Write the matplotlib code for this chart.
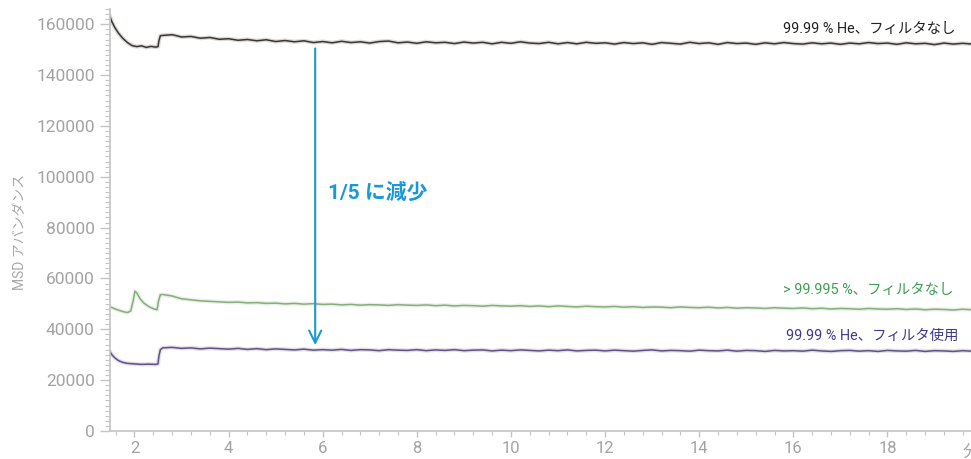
import numpy as np
import matplotlib
matplotlib.use("Agg")
import matplotlib.pyplot as plt
from matplotlib.ticker import MultipleLocator, FixedLocator

plt.rcParams['font.family'] = ['Roboto', 'Noto Sans CJK JP', 'DejaVu Sans']

# --- data (abundance in thousands) ---
# start-up part of each trace (before 2.6 min)
gray_t0 = [1.48, 1.52, 1.58, 1.66, 1.75, 1.85, 1.95, 2.05, 2.15, 2.25, 2.35, 2.45, 2.5, 2.52, 2.55]
gray_k0 = [163.0, 161.0, 158.8, 156.5, 154.5, 152.8, 151.6, 151.2, 151.5, 150.9, 151.3, 151.0, 151.2, 153.5, 155.5]

green_t0 = [1.48, 1.55, 1.65, 1.75, 1.85, 1.92, 1.97, 2.01, 2.05, 2.12, 2.2, 2.3, 2.4, 2.48, 2.51, 2.55]
green_k0 = [48.9, 48.3, 47.6, 47.0, 46.6, 47.2, 51.0, 55.0, 54.3, 52.0, 50.3, 49.0, 48.1, 47.7, 51.0, 53.6]

purple_t0 = [1.48, 1.52, 1.58, 1.66, 1.75, 1.85, 2.0, 2.15, 2.3, 2.45, 2.5, 2.52, 2.55]
purple_k0 = [31.2, 30.0, 28.8, 27.7, 27.0, 26.6, 26.4, 26.2, 26.3, 26.2, 26.4, 29.5, 32.0]

# 2.6 .. 19.8 min, sampled every 0.2 min
gray_k = [155.6, 155.9, 155.0, 155.2, 154.5, 154.8, 154.1, 154.3, 153.7, 154.0,
          153.5, 153.9, 153.2, 153.6, 153.1, 153.5, 152.8, 153.2, 152.7, 153.3,
          152.8, 153.1, 152.6, 153.2, 153.4, 152.7, 153.0, 152.5, 153.1, 152.7,
          152.9, 152.4, 153.0, 152.6, 152.9, 152.3, 152.9, 152.5, 153.1, 152.6,
          152.4, 152.9, 152.3, 152.8, 152.3, 152.9, 152.5, 152.7, 152.2, 152.8,
          152.4, 152.7, 152.1, 152.8, 152.5, 152.2, 152.9, 152.4, 152.7, 152.1,
          152.8, 152.4, 152.6, 152.1, 152.7, 152.3, 152.8, 152.4, 152.2, 152.7,
          152.3, 152.6, 152.1, 152.6, 152.3, 152.8, 152.4, 152.6, 152.1, 152.7,
          152.3, 152.5, 152.0, 152.6, 152.2, 152.5, 152.2]
green_k = [53.7, 53.1, 52.0, 51.6, 51.2, 51.0, 50.8, 50.6, 50.7, 50.4,
           50.5, 50.2, 50.3, 50.0, 50.2, 49.9, 50.1, 49.8, 49.9, 49.6,
           49.8, 49.5, 49.7, 49.6, 49.4, 49.7, 49.5, 49.4, 49.6, 49.3,
           49.5, 49.2, 49.4, 49.3, 49.1, 49.4, 49.2, 49.1, 49.3, 49.0,
           49.2, 48.9, 49.2, 49.0, 48.8, 49.1, 48.9, 48.8, 49.0, 48.7,
           48.9, 48.6, 48.8, 48.7, 48.5, 48.8, 48.6, 48.5, 48.7, 48.4,
           48.6, 48.3, 48.5, 48.4, 48.2, 48.5, 48.3, 48.2, 48.4, 48.1,
           48.3, 48.0, 48.2, 48.1, 47.9, 48.2, 48.0, 47.9, 48.1, 47.8,
           48.0, 47.7, 47.9, 47.8, 47.6, 47.9, 47.7]
purple_k = [32.7, 32.9, 32.5, 32.7, 32.3, 32.6, 32.4, 32.2, 32.5, 32.1,
            32.4, 32.0, 32.3, 32.1, 31.9, 32.2, 31.8, 32.0, 31.8, 32.1,
            31.7, 32.0, 31.9, 31.6, 32.0, 31.8, 31.7, 32.0, 31.6, 31.9,
            31.7, 32.0, 31.6, 31.8, 31.9, 31.5, 31.8, 31.6, 31.9, 31.7,
            31.5, 31.8, 31.6, 31.9, 31.5, 31.7, 31.8, 31.5, 31.8, 31.6,
            31.4, 31.7, 31.9, 31.5, 31.7, 31.6, 31.4, 31.8, 31.6, 31.5,
            31.8, 31.4, 31.7, 31.6, 31.3, 31.7, 31.5, 31.6, 31.4, 31.8,
            31.5, 31.3, 31.6, 31.7, 31.4, 31.6, 31.3, 31.7, 31.5, 31.4,
            31.7, 31.3, 31.6, 31.5, 31.3, 31.6, 31.4]

labels = ['99.99 % He、フィルタなし', '> 99.995 %、フィルタなし', '99.99 % He、フィルタ使用']
colors = ['#3b3531', '#86ad7c', '#5f5283']
label_colors = ['#222222', '#3f9e4f', '#3c3a8e']

y_ticks = [0, 20000, 40000, 60000, 80000, 100000, 120000, 140000, 160000]
x_ticks = [2, 4, 6, 8, 10, 12, 14, 16, 18]
x_unit = '分'

fig = plt.figure(figsize=(9.71, 4.59), dpi=100)
# axes runs past the right edge of the figure, as in the reference
ax = fig.add_axes([110 / 971, 28 / 459, 881 / 971, 422 / 459])

series = [(gray_t0, gray_k0, gray_k), (green_t0, green_k0, green_k), (purple_t0, purple_k0, purple_k)]
for (t0, k0, k), c in zip(series, colors):
    t = list(t0) + list(np.linspace(2.6, 19.8, len(k)))
    y = np.array(list(k0) + list(k)) * 1000
    ax.plot(t, y, color=c, lw=3.0, alpha=0.18, solid_joinstyle='round')
    ax.plot(t, y, color=c, lw=1.1)

# series labels
ax.text(19.45, 158000, labels[0], ha='right', va='center', fontsize=10.4, color=label_colors[0])
ax.text(19.40, 55400, labels[1], ha='right', va='center', fontsize=10.4, color=label_colors[1])
ax.text(19.51, 37300, labels[2], ha='right', va='center', fontsize=10.4, color=label_colors[2])

# reduction arrow
ax.annotate('', xy=(5.84, 33800), xytext=(5.84, 150500),
            arrowprops=dict(arrowstyle='->', color='#1a98d5', lw=1.5,
                            mutation_scale=22, shrinkA=0, shrinkB=0))
ax.text(6.11, 93600, '1/5 に減少', ha='left', va='center', fontsize=15,
        fontweight='bold', color='#1a98d5')

ax.set_xlim(1.48, 20.2)
ax.set_ylim(0, 166000)
ax.xaxis.set_major_locator(FixedLocator(x_ticks))
ax.xaxis.set_minor_locator(MultipleLocator(0.4))
ax.yaxis.set_major_locator(FixedLocator(y_ticks))
ax.yaxis.set_minor_locator(MultipleLocator(2000))

for s in ['top', 'right']:
    ax.spines[s].set_visible(False)
for s in ['left', 'bottom']:
    ax.spines[s].set_color('#c4c4c4')
    ax.spines[s].set_linewidth(1.2)

ax.tick_params(axis='both', which='both', colors='#c4c4c4', labelcolor='#a3a3a3')
ax.tick_params(axis='y', which='major', length=7, width=1, pad=4, labelsize=12.5)
ax.tick_params(axis='y', which='minor', length=3.5, width=0.8)
ax.tick_params(axis='x', which='major', length=4.5, width=1, pad=3, labelsize=12)
ax.tick_params(axis='x', which='minor', length=3, width=0.8)

# unit label at the right end of the x axis (cut by the figure edge)
fig.text(963 / 971, 2.5 / 459, x_unit, ha='left', va='baseline', fontsize=12, color='#a3a3a3')

fig.text(20 / 971, 1 - 232 / 459, 'MSD アバンダンス', rotation=90, ha='center', va='center',
         fontsize=10, color='#a8a8a8')

fig.savefig('out.png', dpi=100)
